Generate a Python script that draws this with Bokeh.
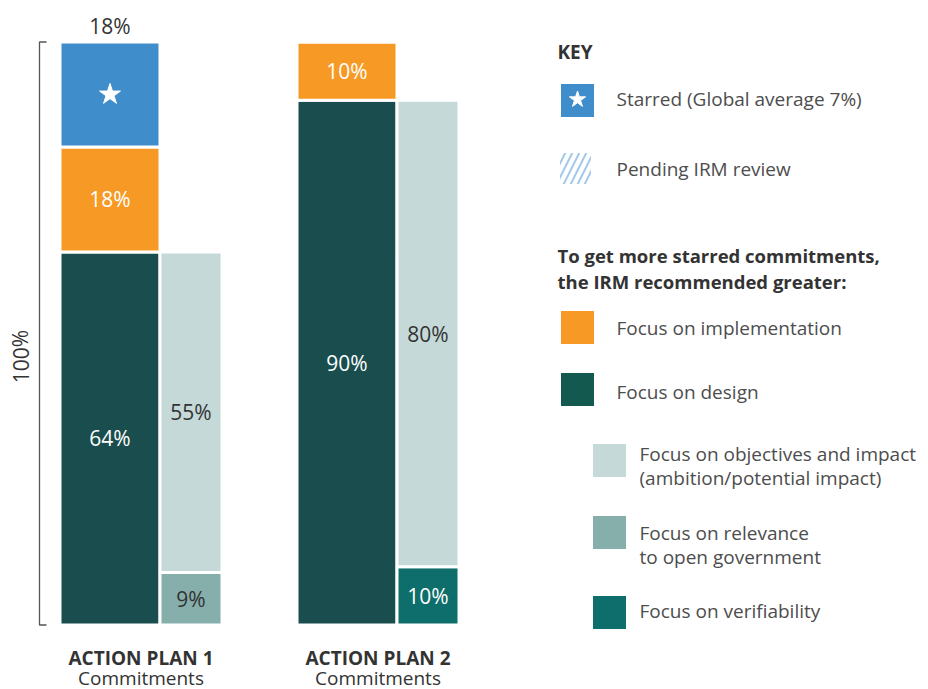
from bokeh.plotting import figure
from bokeh.models import Range1d, ColumnDataSource
from bokeh.core.properties import value
from bokeh.embed import file_html
from bokeh.resources import INLINE

# ---------------- data ----------------
plans = ["ACTION PLAN 1", "ACTION PLAN 2"]
plan_sub = ["Commitments", "Commitments"]
starred = [18, 0]
implementation = [18, 10]
design = [64, 90]
objectives = [55, 80]
relevance = [9, 0]
verifiability = [0, 10]

legend_labels = [
    "Starred (Global average 7%)",
    "Pending IRM review",
    "Focus on implementation",
    "Focus on design",
    "Focus on objectives and impact\n(ambition/potential impact)",
    "Focus on relevance\nto open government",
    "Focus on verifiability",
]

# ---------------- style ----------------
C_BLUE = "#3F8DCB"
C_ORANGE = "#F79A25"
C_DARK = "#1A4D4E"
C_DARK_KEY = "#135950"
C_LIGHT = "#C5D9D8"
C_MED = "#86AEAB"
C_TEAL = "#0E6E6B"
C_TEXT = "#333333"
C_KEY_TEXT = "#4d4d4d"
FONT = "Open Sans"

W, H = 928, 689
PX_X = 237.0           # pixels per plan slot
X0_IMG = 59.5          # image x of data x = 0
PX_Y = 5.83            # pixels per percent
Y100_IMG = 41.5        # image y of 100%
OFF = 0                # page offset of the figure

x_start = (OFF - X0_IMG) / PX_X
x_end = x_start + W / PX_X
y_top = 100 + (Y100_IMG - OFF) / PX_Y
y_bot = y_top - H / PX_Y


def X(img_x):
    return (img_x - X0_IMG) / PX_X


def Y(img_y):
    return 100 - (img_y - Y100_IMG) / PX_Y


p = figure(width=W, height=H, x_range=Range1d(x_start, x_end), y_range=Range1d(y_bot, y_top),
           output_backend="svg", toolbar_location=None, min_border=0)
p.axis.visible = False
p.grid.visible = False
p.outline_line_color = None
p.background_fill_color = "white"

MAIN_W = 100 / PX_X
SEC_W = 62 / PX_X

# main stacked bars
left_main = [i for i in range(len(plans))]
right_main = [i + MAIN_W for i in range(len(plans))]
b0 = [0] * len(plans)
b1 = [d for d in design]
b2 = [d + im for d, im in zip(design, implementation)]
b3 = [d + im + s for d, im, s in zip(design, implementation, starred)]

def seg(left, right, bottom, top, color):
    src = ColumnDataSource(dict(left=left, right=right, bottom=bottom, top=top))
    p.quad(left="left", right="right", bottom="bottom", top="top", source=src,
           fill_color=color, line_color="white", line_width=3)

seg(left_main, right_main, b0, b1, C_DARK)
seg(left_main, right_main, b1, b2, C_ORANGE)
seg(left_main, right_main, b2, b3, C_BLUE)

# secondary stacked bars
left_sec = [i + MAIN_W for i in range(len(plans))]
right_sec = [i + MAIN_W + SEC_W for i in range(len(plans))]
s1 = [r + v for r, v in zip(relevance, verifiability)]
s2 = [a + o for a, o in zip(s1, objectives)]
seg(left_sec, right_sec, [0, 0], relevance, C_MED)
seg(left_sec, right_sec, relevance, s1, C_TEAL)
seg(left_sec, right_sec, s1, s2, C_LIGHT)

# labels in bars
def lab(xs, ys, txt, color, size="21px"):
    p.text(x=xs, y=ys, text=txt, text_font=value(FONT), text_font_size=size,
           text_color=color, text_align="center", text_baseline="middle")

mc = [i + MAIN_W / 2 for i in range(len(plans))]
sc = [i + MAIN_W + SEC_W / 2 for i in range(len(plans))]
for i in range(len(plans)):
    if design[i]:
        lab([mc[i]], [design[i] / 2], [f"{design[i]}%"], "white")
    if implementation[i]:
        lab([mc[i]], [b1[i] + implementation[i] / 2], [f"{implementation[i]}%"], "white")
    if starred[i]:
        lab([mc[i]], [b3[i] + 2.8], [f"{starred[i]}%"], C_TEXT)
        p.scatter(x=[mc[i]], y=[b2[i] + starred[i] / 2], marker="star", size=22,
                  fill_color="white", line_color="white")
    if relevance[i]:
        lab([sc[i]], [relevance[i] / 2], [f"{relevance[i]}%"], C_TEXT)
    if verifiability[i]:
        lab([sc[i]], [relevance[i] + verifiability[i] / 2], [f"{verifiability[i]}%"], "white")
    if objectives[i]:
        lab([sc[i]], [s1[i] + objectives[i] / 2], [f"{objectives[i]}%"], C_TEXT)

# plan titles
gc = [i + (MAIN_W + SEC_W) / 2 for i in range(len(plans))]
p.text(x=gc, y=[Y(657)] * 2, text=plans, text_font=value(FONT), text_font_size="19px",
       text_font_style="bold", text_color=C_TEXT, text_align="center", text_baseline="middle")
p.text(x=gc, y=[Y(677)] * 2, text=plan_sub, text_font=value(FONT), text_font_size="19px",
       text_color=C_TEXT, text_align="center", text_baseline="middle")

# 100% bracket
bx = X(39)
tx = X(46)
p.line(x=[tx, bx, bx, tx], y=[100, 100, 0, 0], line_color="#555555", line_width=1.3)
p.text(x=[X(20)], y=[Y(356)], text=["100%"], angle=1.5708, text_font=value(FONT),
       text_font_size="21px", text_color=C_TEXT, text_align="center", text_baseline="middle")

# ---------------- key ----------------
p.text(x=[X(557)], y=[Y(51)], text=["KEY"], text_font=value(FONT), text_font_size="19px",
       text_font_style="bold", text_color=C_TEXT, text_align="left", text_baseline="middle")
p.text(x=[X(557), X(557)], y=[Y(255), Y(281)],
       text=["To get more starred commitments,", "the IRM recommended greater:"],
       text_font=value(FONT), text_font_size="18.5px", text_font_style="bold",
       text_color=C_TEXT, text_align="left", text_baseline="middle")

SQ = 33 / PX_X
SQH = 33 / PX_Y

def key_square(cx_img, cy_img, color):
    p.rect(x=[X(cx_img)], y=[Y(cy_img)], width=SQ, height=SQH, fill_color=color, line_color=None)

key_square(577, 100, C_BLUE)
p.scatter(x=[X(577)], y=[Y(99)], marker="star", size=17, fill_color="white", line_color="white")
p.rect(x=[X(575)], y=[Y(168)], width=31 / PX_X, height=31 / PX_Y, fill_alpha=0, line_color=None,
       hatch_pattern="/", hatch_color="#A3C8EA", hatch_weight=2, hatch_scale=14)
key_square(577, 327, C_ORANGE)
key_square(577, 389, C_DARK_KEY)
key_square(609, 460, C_LIGHT)
key_square(609, 532, C_MED)
key_square(609, 612, C_TEAL)

def key_text(x_img, ys_img, lines):
    p.text(x=[X(x_img)] * len(lines), y=[Y(v) for v in ys_img], text=lines,
           text_font=value(FONT), text_font_size="19px", text_color=C_KEY_TEXT,
           text_align="left", text_baseline="middle")

key_text(616, [98], [legend_labels[0]])
key_text(616, [168], [legend_labels[1]])
key_text(616, [327], [legend_labels[2]])
key_text(616, [391], [legend_labels[3]])
key_text(639, [453, 477], legend_labels[4].split("\n"))
key_text(639, [532, 556], legend_labels[5].split("\n"))
key_text(639, [610], [legend_labels[6]])

open("out.html", "w").write(file_html(p, INLINE))
